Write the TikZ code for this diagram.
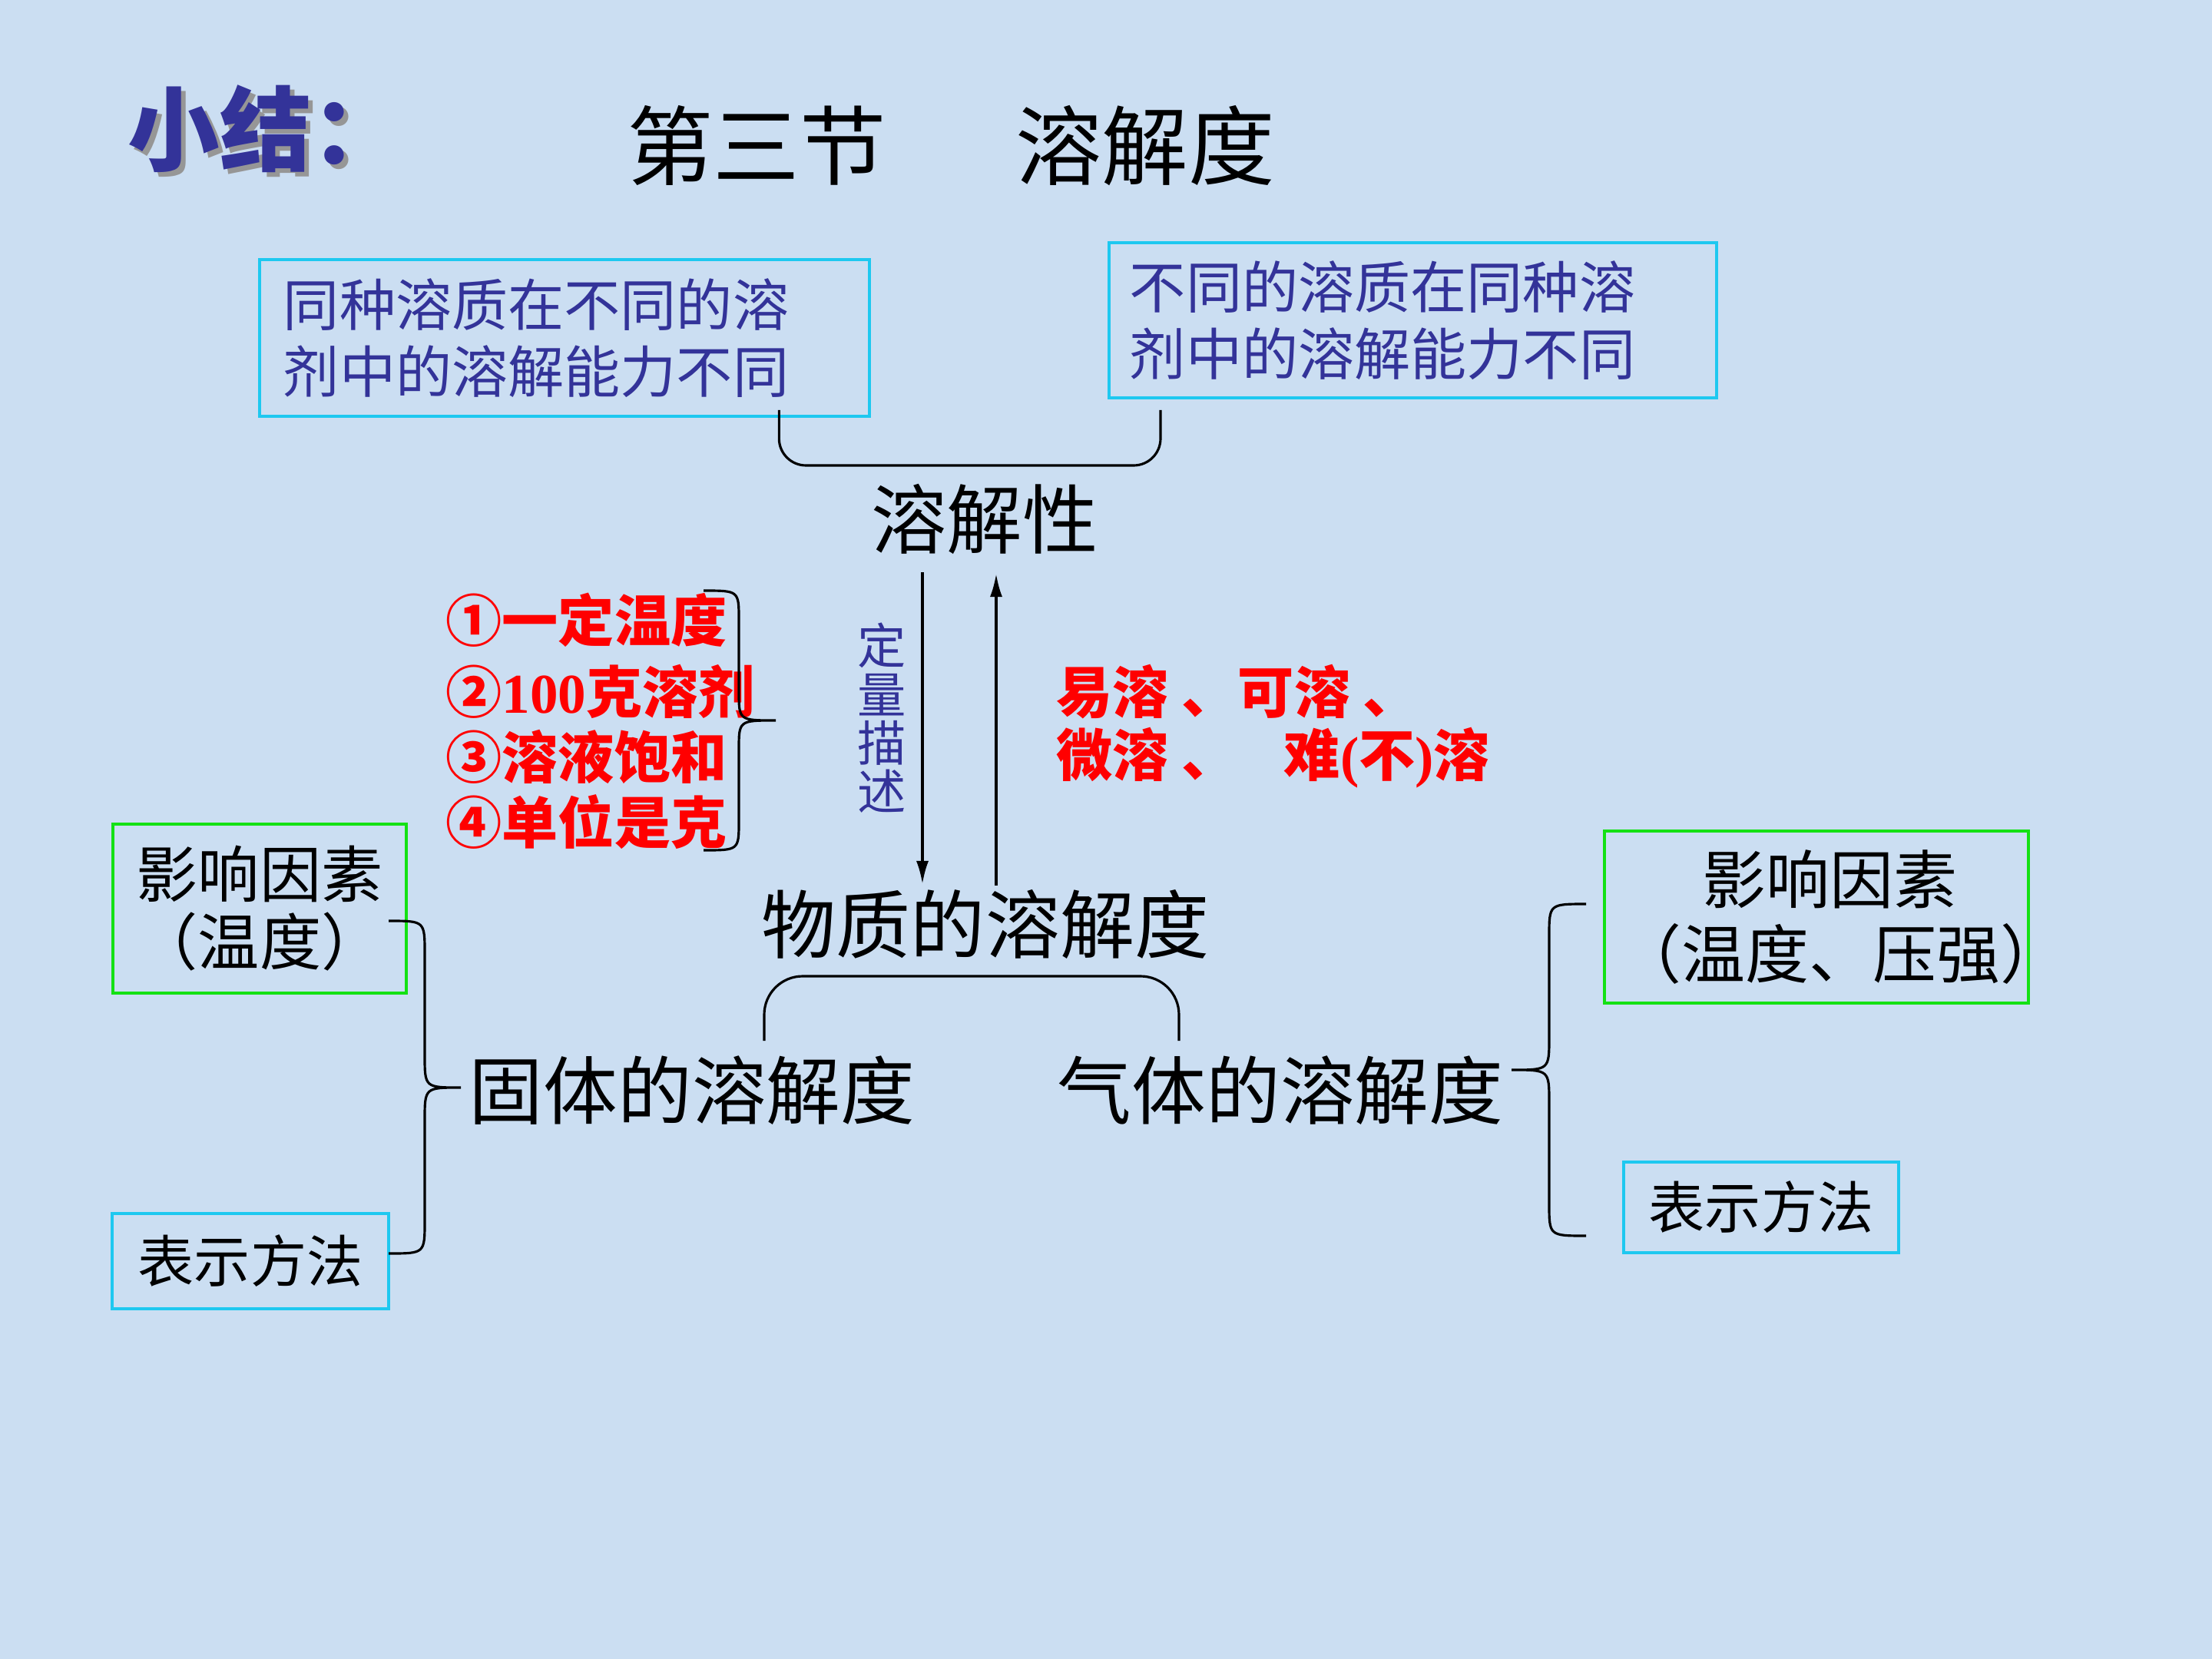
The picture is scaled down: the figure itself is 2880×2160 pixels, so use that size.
\documentclass[tikz,border=0pt]{standalone}
\usepackage{fontspec}
\setmainfont{Noto Sans CJK SC}
\newfontfamily\serifb{Liberation Serif}
\usetikzlibrary{arrows.meta}
\definecolor{bg}{RGB}{203,222,242}
\definecolor{navy}{RGB}{51,51,153}
\definecolor{cyanb}{RGB}{30,200,240}
\definecolor{greenb}{RGB}{20,225,20}
\definecolor{shadowg}{RGB}{150,150,150}
\newcommand\fsz[2]{\fontsize{#1}{#2}\selectfont}
% brace: x_end, x_vert, x_tip, y_top, y_mid, y_bot, r
\newcommand\mybrace[7]{\draw[conn] (#1,#4) .. controls (#2,#4) and (#2,#4) .. (#2,#4+#7) -- (#2,#5-#7) .. controls (#2,#5) and (#2,#5) .. (#3,#5) .. controls (#2,#5) and (#2,#5) .. (#2,#5+#7) -- (#2,#6-#7) .. controls (#2,#6) and (#2,#6) .. (#1,#6);}
\tikzset{
  txt/.style={inner sep=0pt},
  cbox/.style={draw=cyanb, line width=1.1pt, inner sep=0pt},
  gbox/.style={draw=greenb, line width=1.1pt, inner sep=0pt},
  conn/.style={line width=0.9pt, draw=black},
  arr/.style={conn, -{Latex[length=0.3cm,width=0.16cm]}},
  redtxt/.style={txt, anchor=west, text=red, font=\fsz{20.8}{24}\bfseries},
}
\begin{document}
\begin{tikzpicture}[x=0.01cm, y=-0.01cm]
\useasboundingbox (0,0) rectangle (2880,2160);
\fill[bg] (0,0) rectangle (2880,2160);

% title (with grey shadow in the same text)
\node[txt, anchor=west, text=navy, font=\fsz{34}{40}\bfseries] (sj) at (166,171) {\rlap{\hspace{0.06cm}\raisebox{-0.06cm}{\textcolor{shadowg}{小结：}}}小结：};
\node[txt, font=\fsz{32}{38}] (title) at (1238,190) {第三节\hspace{1.5em}溶解度};

% top boxes
\node[cbox, anchor=north west, minimum width=7.94cm, minimum height=2.04cm, text width=7.32cm, inner xsep=0.31cm, align=left, text=navy, font=\fsz{20.8}{24.8}] (b1) at (336,336) {同种溶质在不同的溶\\剂中的溶解能力不同};
\node[cbox, anchor=north west, minimum width=7.91cm, minimum height=2.02cm, text width=7.37cm, inner xsep=0.27cm, align=left, text=navy, font=\fsz{20.8}{24.8}] (b2) at (1442,314) {不同的溶质在同种溶\\剂中的溶解能力不同};

\draw[conn, rounded corners=0.35cm] ([shift={(-120,-10)}]b1.south east) |- ([shift={(69,86)}]b2.south west) -- ([shift={(69,14)}]b2.south west);

\node[txt, font=\fsz{28}{32}] (rjx) at (1282,676) {溶解性};

% conditions
\node[redtxt] (r1) at (580,807) {①一定温度};
\node[redtxt] (r2) at (580,900) {②{\serifb 100}克溶剂};
\node[redtxt] (r3) at (580,985) {③溶液饱和};
\node[redtxt] (r4) at (580,1070) {④单位是克};
\mybrace{916}{962}{1010}{769}{938}{1107}{38}

\node[txt, text=navy, font=\fsz{18}{18}, align=center] (dl) at (1148,935) {定\\量\\描\\述};

\node[redtxt] (e1) at (1375,901) {易溶 、可溶 、};
\node[redtxt] (e2) at (1375,987) {微溶 、\hspace{0.6cm}难{\serifb(}不{\serifb)}溶};

\node[txt, font=\fsz{27.6}{32}] (wz) at (1283,1203) {物质的溶解度};

\draw[arr] ([shift={(-81,69)}]rjx.center) -- ([shift={(-82,-52)}]wz.center);
\draw[arr] ([shift={(14,-50)}]wz.center) -- ([shift={(15,71)}]rjx.center);

\node[txt, font=\fsz{27.5}{32}] (gt) at (901,1420) {固体的溶解度};
\node[txt, font=\fsz{27.5}{32}] (qt) at (1667,1420) {气体的溶解度};

\draw[conn, rounded corners=0.5cm] ([shift={(94,-65)}]gt.center) |- ([shift={(-132,-149)}]qt.center) -- ([shift={(-132,-65)}]qt.center);

% left side
\node[gbox, minimum width=3.82cm, minimum height=2.2cm, align=center, font=\fsz{22.8}{25}] (lg) at (338,1183) {影响因素\\（温度）};
\node[cbox, minimum width=3.59cm, minimum height=1.24cm, font=\fsz{20.8}{24}] (lc) at (326,1642) {表示方法};
\mybrace{506}{553}{600}{1199}{1416}{1632}{42}

% right side
\node[gbox, minimum width=5.51cm, minimum height=2.24cm, align=center, font=\fsz{23.6}{27.6}] (rg) at (2365,1194) {\makebox[0pt]{\hspace{0.34cm}影响因素}\\\makebox[0pt]{\hspace{0.64cm}（温度、压强）}};
\node[cbox, minimum width=3.58cm, minimum height=1.18cm, font=\fsz{20.8}{24}] (rc) at (2293,1572) {表示方法};
\mybrace{2065}{2017}{1968}{1177}{1393}{1609}{42}
\end{tikzpicture}
\end{document}
